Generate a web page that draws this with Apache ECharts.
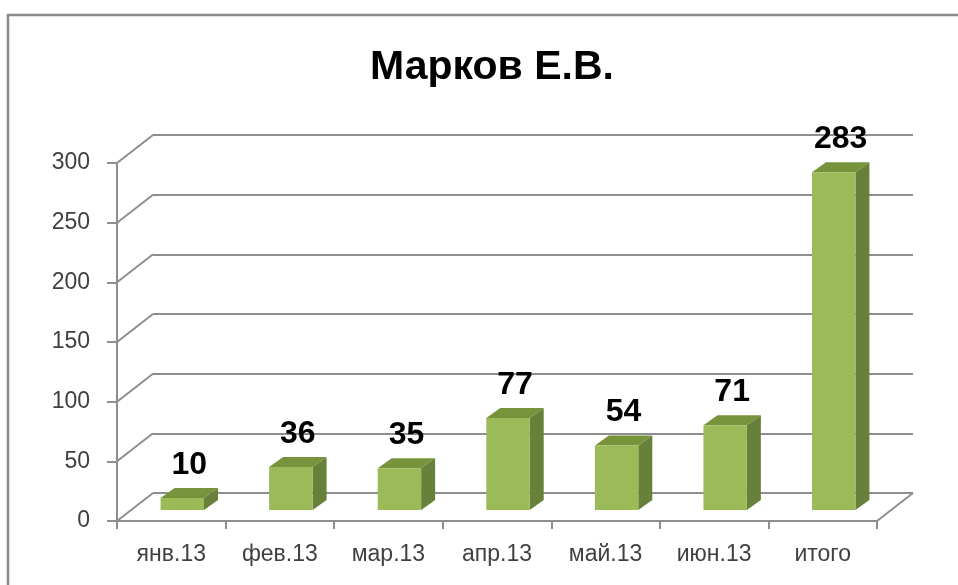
<!DOCTYPE html>
<html>
<head>
<meta charset="utf-8">
<script src="https://cdn.jsdelivr.net/npm/echarts@6/dist/echarts.min.js"></script>
<style>
html,body{margin:0;padding:0;background:#fff;}
#chart{width:958px;height:585px;}
</style>
</head>
<body>
<div id="chart"></div>
<script>
const titleText = 'Марков Е.В.';
const categories = ['янв.13','фев.13','мар.13','апр.13','май.13','июн.13','итого'];
const values = [10, 36, 35, 77, 54, 71, 283];
const yTicks = [0, 50, 100, 150, 200, 250, 300];

const FONT = '"Liberation Sans", "DejaVu Sans", sans-serif';
const GRID_COLOR = '#8e8e8e';
const DX = 36, DY = -28;          // wall depth projection
const BAR_SHIFT_X = 11, BAR_SHIFT_Y = -11; // bar front face position in depth
const BAR_DX = 14, BAR_DY = -10;  // bar depth
const FRONT = '#9bbb59', TOP = '#77933c', SIDE = '#67803a';

const chart = echarts.init(document.getElementById('chart'), null, {renderer: 'canvas'});

const option = {
  backgroundColor: '#ffffff',
  animation: false,
  title: {
    text: titleText,
    left: 487,
    top: 42,
    textAlign: 'center',
    textStyle: {fontFamily: FONT, fontSize: 41, fontWeight: 'bold', color: '#000'}
  },
  graphic: [{
    type: 'rect',
    shape: {x: 8, y: 15, width: 1000, height: 700},
    style: {fill: 'none', stroke: '#8a8a8a', lineWidth: 2.5},
    z: 0
  }],
  grid: [
    {left: 117, right: 81, top: 163, bottom: 64},
    {left: 117 + DX, right: 81 - DX, top: 163 + DY, bottom: 64 - DY}
  ],
  xAxis: [
    {
      type: 'category', gridIndex: 0, data: categories, boundaryGap: true,
      axisLine: {show: true, lineStyle: {color: GRID_COLOR, width: 2}},
      axisTick: {show: true, length: 8, lineStyle: {color: GRID_COLOR, width: 2}},
      axisLabel: {margin: 22, fontFamily: FONT, fontSize: 23, color: '#404040'},
      splitLine: {show: false}
    },
    {
      type: 'category', gridIndex: 1, data: categories, boundaryGap: true, show: false
    }
  ],
  yAxis: [
    {
      type: 'value', gridIndex: 0, min: 0, max: 300, interval: 50,
      axisLine: {show: true, lineStyle: {color: GRID_COLOR, width: 2}},
      axisTick: {show: true, length: 10, lineStyle: {color: GRID_COLOR, width: 2}},
      axisLabel: {margin: 27, fontFamily: FONT, fontSize: 23, color: '#404040'},
      splitLine: {show: false}
    },
    {
      type: 'value', gridIndex: 1, min: 0, max: 300, interval: 50,
      axisLine: {show: false}, axisTick: {show: false}, axisLabel: {show: false},
      splitLine: {show: true, lineStyle: {color: GRID_COLOR, width: 2}}
    }
  ],
  series: [
    {
      type: 'custom',
      name: 'frame',
      xAxisIndex: 0, yAxisIndex: 0,
      z: 1,
      silent: true,
      data: yTicks.map(v => [0, v]),
      renderItem: function (params, api) {
        const cs = params.coordSys;
        const v = api.value(1);
        const y = api.coord([0, v])[1];
        const children = [{
          type: 'line',
          shape: {x1: cs.x, y1: y, x2: cs.x + DX, y2: y + DY},
          style: {stroke: GRID_COLOR, lineWidth: 2}
        }];
        if (v === 0) {
          children.push({
            type: 'line',
            shape: {x1: cs.x + cs.width, y1: y, x2: cs.x + cs.width + DX, y2: y + DY},
            style: {stroke: GRID_COLOR, lineWidth: 2}
          });
        }
        return {type: 'group', children: children};
      }
    },
    {
      type: 'custom',
      name: 'bars',
      xAxisIndex: 0, yAxisIndex: 0,
      z: 5,
      data: values.map((v, i) => [i, v]),
      renderItem: function (params, api) {
        const idx = api.value(0);
        const val = api.value(1);
        const base = api.coord([idx, 0]);
        const top = api.coord([idx, val]);
        const catW = api.size([1, 0])[0];
        const w = catW * 0.4;
        const x0 = base[0] + BAR_SHIFT_X - w / 2;
        const x1 = x0 + w;
        const yb = base[1] + BAR_SHIFT_Y;
        const yt = top[1] + BAR_SHIFT_Y;
        return {
          type: 'group',
          children: [
            {type: 'polygon', shape: {points: [[x1, yb], [x1, yt], [x1 + BAR_DX, yt + BAR_DY], [x1 + BAR_DX, yb + BAR_DY]]}, style: {fill: SIDE}},
            {type: 'polygon', shape: {points: [[x0, yt], [x1, yt], [x1 + BAR_DX, yt + BAR_DY], [x0 + BAR_DX, yt + BAR_DY]]}, style: {fill: TOP}},
            {type: 'rect', shape: {x: x0, y: yt, width: w, height: yb - yt}, style: {fill: FRONT}},
            {type: 'text', x: x0 + (w + BAR_DX) / 2, y: yt + BAR_DY - 23,
              style: {text: String(val), fill: '#000', font: 'bold 32px ' + FONT, align: 'center', verticalAlign: 'middle'}}
          ]
        };
      }
    }
  ]
};
chart.setOption(option);
</script>
</body>
</html>
